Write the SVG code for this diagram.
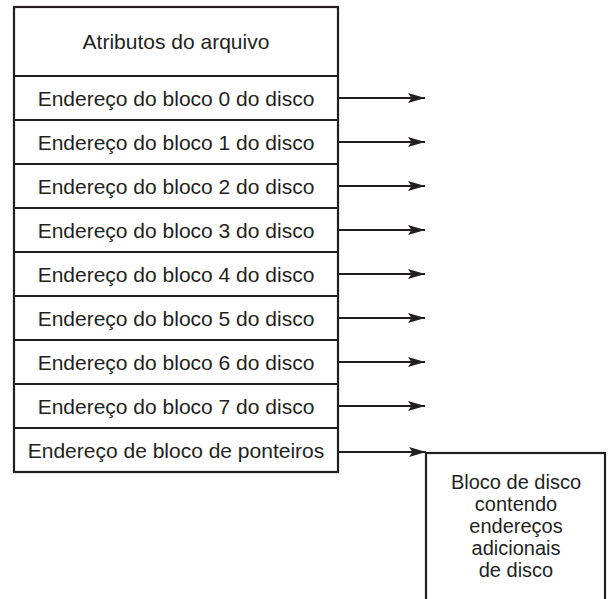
<svg xmlns="http://www.w3.org/2000/svg" width="610" height="599" viewBox="0 0 610 599">
<style>
.box{fill:#fff;stroke:#231f20;stroke-width:2.2}
.sep{stroke:#231f20;stroke-width:2}
.t{font-family:"Liberation Sans",Arial,sans-serif;font-size:21px;fill:#231f20;text-anchor:middle}
.b{font-size:20px}
.c{stroke:#231f20;stroke-width:2.2;fill:none}
</style>
<defs>
<marker id="ah" markerUnits="userSpaceOnUse" markerWidth="18" markerHeight="12" refX="17" refY="6" orient="auto">
<path d="M0,1 L17,6 L0,11 L3.5,6 Z" fill="#231f20"/>
</marker>
</defs>
<g id="inode">
<rect class="box" x="14" y="7" width="324" height="465"/>
<line class="sep" x1="14" y1="76" x2="338" y2="76"/>
<line class="sep" x1="14" y1="120" x2="338" y2="120"/>
<line class="sep" x1="14" y1="164" x2="338" y2="164"/>
<line class="sep" x1="14" y1="208" x2="338" y2="208"/>
<line class="sep" x1="14" y1="252" x2="338" y2="252"/>
<line class="sep" x1="14" y1="296" x2="338" y2="296"/>
<line class="sep" x1="14" y1="340" x2="338" y2="340"/>
<line class="sep" x1="14" y1="384" x2="338" y2="384"/>
<line class="sep" x1="14" y1="428" x2="338" y2="428"/>
<text class="t" x="176" y="49">Atributos do arquivo</text>
<text class="t" x="176" y="106">Endereço do bloco 0 do disco</text>
<text class="t" x="176" y="150">Endereço do bloco 1 do disco</text>
<text class="t" x="176" y="194">Endereço do bloco 2 do disco</text>
<text class="t" x="176" y="238">Endereço do bloco 3 do disco</text>
<text class="t" x="176" y="282">Endereço do bloco 4 do disco</text>
<text class="t" x="176" y="326">Endereço do bloco 5 do disco</text>
<text class="t" x="176" y="370">Endereço do bloco 6 do disco</text>
<text class="t" x="176" y="414">Endereço do bloco 7 do disco</text>
<text class="t" x="176" y="458">Endereço de bloco de ponteiros</text>
</g>
<g id="bloco">
<rect class="box" x="426" y="453" width="179" height="160"/>
<text class="t b" x="516" y="489">Bloco de disco</text>
<text class="t b" x="516" y="511">contendo</text>
<text class="t b" x="516" y="533">endereços</text>
<text class="t b" x="516" y="555">adicionais</text>
<text class="t b" x="516" y="577">de disco</text>
</g>
<g id="connectors">
<line class="c" x1="338" y1="98" x2="425" y2="98" marker-end="url(#ah)"/>
<line class="c" x1="338" y1="142" x2="425" y2="142" marker-end="url(#ah)"/>
<line class="c" x1="338" y1="186" x2="425" y2="186" marker-end="url(#ah)"/>
<line class="c" x1="338" y1="230" x2="425" y2="230" marker-end="url(#ah)"/>
<line class="c" x1="338" y1="274" x2="425" y2="274" marker-end="url(#ah)"/>
<line class="c" x1="338" y1="318" x2="425" y2="318" marker-end="url(#ah)"/>
<line class="c" x1="338" y1="362" x2="425" y2="362" marker-end="url(#ah)"/>
<line class="c" x1="338" y1="406" x2="425" y2="406" marker-end="url(#ah)"/>
<line class="c" x1="338" y1="452" x2="426" y2="452" marker-end="url(#ah)"/>
</g>
</svg>
